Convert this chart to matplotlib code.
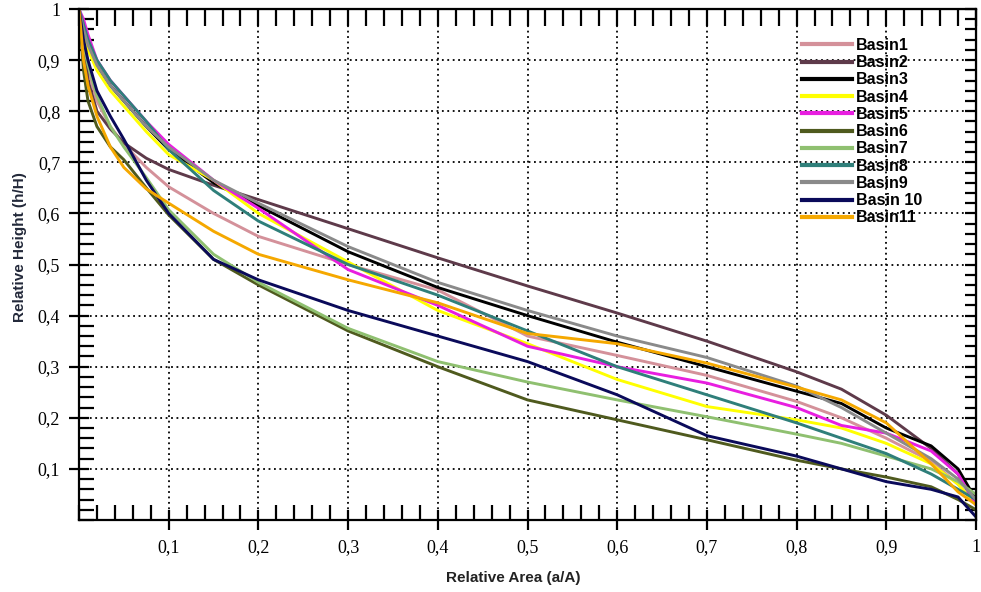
import numpy as np
import matplotlib
matplotlib.use("Agg")
import matplotlib.pyplot as plt
from matplotlib.ticker import MultipleLocator

# relative area (a/A) sample points shared by all curves
area = [0, 0.005, 0.01, 0.02, 0.035, 0.05, 0.075, 0.1, 0.15, 0.2, 0.3,
        0.4, 0.5, 0.6, 0.7, 0.8, 0.85, 0.9, 0.95, 0.98, 1.0]

# relative height (h/H)
basin1 = [1.0, 0.93, 0.88, 0.82, 0.77, 0.735, 0.69, 0.652, 0.60, 0.555, 0.50,
          0.45, 0.36, 0.322, 0.283, 0.232, 0.20, 0.16, 0.115, 0.07, 0.03]
basin2 = [1.0, 0.94, 0.86, 0.80, 0.765, 0.738, 0.708, 0.686, 0.655, 0.627, 0.57,
          0.513, 0.458, 0.405, 0.35, 0.29, 0.256, 0.205, 0.14, 0.09, 0.03]
basin3 = [1.0, 0.96, 0.93, 0.89, 0.85, 0.82, 0.77, 0.725, 0.66, 0.615, 0.525,
          0.455, 0.40, 0.348, 0.30, 0.252, 0.228, 0.18, 0.145, 0.10, 0.04]
basin4 = [1.0, 0.96, 0.92, 0.88, 0.84, 0.81, 0.76, 0.715, 0.665, 0.60, 0.505,
          0.41, 0.345, 0.275, 0.222, 0.196, 0.18, 0.15, 0.11, 0.07, 0.03]
basin5 = [1.0, 0.98, 0.95, 0.90, 0.86, 0.83, 0.78, 0.735, 0.665, 0.61, 0.49,
          0.42, 0.34, 0.30, 0.268, 0.22, 0.185, 0.17, 0.135, 0.09, 0.03]
basin6 = [1.0, 0.88, 0.82, 0.77, 0.73, 0.705, 0.65, 0.597, 0.51, 0.46, 0.37,
          0.30, 0.235, 0.196, 0.157, 0.117, 0.10, 0.084, 0.065, 0.04, 0.02]
basin7 = [1.0, 0.93, 0.89, 0.83, 0.77, 0.73, 0.67, 0.607, 0.52, 0.465, 0.375,
          0.31, 0.27, 0.235, 0.202, 0.168, 0.15, 0.125, 0.10, 0.075, 0.05]
basin8 = [1.0, 0.97, 0.94, 0.90, 0.86, 0.83, 0.78, 0.725, 0.645, 0.585, 0.50,
          0.44, 0.37, 0.30, 0.245, 0.19, 0.16, 0.13, 0.09, 0.06, 0.04]
basin9 = [1.0, 0.96, 0.93, 0.89, 0.85, 0.82, 0.77, 0.73, 0.665, 0.62, 0.535,
          0.465, 0.41, 0.36, 0.318, 0.262, 0.22, 0.17, 0.12, 0.08, 0.04]
basin10 = [1.0, 0.94, 0.90, 0.84, 0.79, 0.745, 0.665, 0.60, 0.51, 0.47, 0.41,
           0.36, 0.31, 0.245, 0.165, 0.125, 0.10, 0.075, 0.06, 0.045, 0.006]
basin11 = [1.0, 0.90, 0.85, 0.79, 0.73, 0.69, 0.648, 0.62, 0.565, 0.52, 0.47,
           0.425, 0.365, 0.345, 0.307, 0.26, 0.235, 0.19, 0.11, 0.055, 0.03]

labels = ["Basin1", "Basin2", "Basin3", "Basin4", "Basin5", "Basin6",
          "Basin7", "Basin8", "Basin9", "Basin 10", "Basin11"]
colors = ["#d4919a", "#5e3a4a", "#000000", "#ffff00", "#e81ee0", "#4f5a1e",
          "#8fc070", "#2f7f7a", "#8a8a8a", "#0a0a5a", "#f5a800"]

xtick_vals = [0.1, 0.2, 0.3, 0.4, 0.5, 0.6, 0.7, 0.8, 0.9, 1.0]
xtick_labels = ["0,1", "0,2", "0,3", "0,4", "0,5", "0,6", "0,7", "0,8", "0,9", "1"]
ytick_vals = xtick_vals
ytick_labels = xtick_labels

fig = plt.figure(figsize=(9.81, 5.92), dpi=100)
ax = fig.add_axes([79 / 981, 1 - 520 / 592, (976 - 79) / 981, (520 - 9) / 592])

series = [basin1, basin2, basin3, basin4, basin5, basin6,
          basin7, basin8, basin9, basin10, basin11]
for ys, lab, col in zip(series, labels, colors):
    ax.plot(area, ys, color=col, lw=2.1, label=lab)

ax.set_xlim(0, 1)
ax.set_ylim(0, 1)

serif = ["Liberation Serif", "DejaVu Serif"]
ax.set_xticks(xtick_vals)
ax.set_xticklabels(xtick_labels, fontfamily=serif, fontsize=13)
ax.set_yticks(ytick_vals)
ax.set_yticklabels(ytick_labels, fontfamily=serif, fontsize=13)
ax.xaxis.set_minor_locator(MultipleLocator(0.02))
ax.yaxis.set_minor_locator(MultipleLocator(0.02))
ax.tick_params(which="major", direction="inout", length=15, width=1.6, pad=6)
ax.tick_params(which="minor", direction="in", length=11, width=1.6)

# ticks on top and right, pointing inward
top = ax.secondary_xaxis("top")
top.set_xticks(xtick_vals)
top.xaxis.set_minor_locator(MultipleLocator(0.02))
top.tick_params(which="both", direction="in", length=12, width=1.6, labeltop=False)
right = ax.secondary_yaxis("right")
right.set_yticks(ytick_vals)
right.yaxis.set_minor_locator(MultipleLocator(0.02))
right.tick_params(which="both", direction="in", length=8, width=1.6, labelright=False)

for sp in ax.spines.values():
    sp.set_linewidth(1.6)

ax.grid(True, which="major", color="black", linestyle=(0, (1, 2)), linewidth=1.3)

fig.text(20 / 981, 1 - 247 / 592, "Relative Height (h/H)", rotation=90,
         ha="center", va="center", fontsize=11, fontweight="bold",
         fontfamily="Liberation Sans", color="#23293a")
fig.text(513 / 981, 1 - 578 / 592, "Relative Area (a/A)",
         ha="center", va="center", fontsize=11, fontweight="bold",
         fontfamily="Liberation Sans", color="#222222")

ax.legend(loc="upper left", bbox_to_anchor=(802 / 981, 1 - 38 / 592),
          bbox_transform=fig.transFigure, frameon=False,
          prop={"family": "Liberation Sans", "weight": "bold", "size": 11.5},
          handlelength=3.1, handletextpad=0.25, labelspacing=0.14,
          borderpad=0, borderaxespad=0)
for line in ax.get_legend().get_lines():
    line.set_linewidth(3)

fig.savefig("out.png", dpi=100)
